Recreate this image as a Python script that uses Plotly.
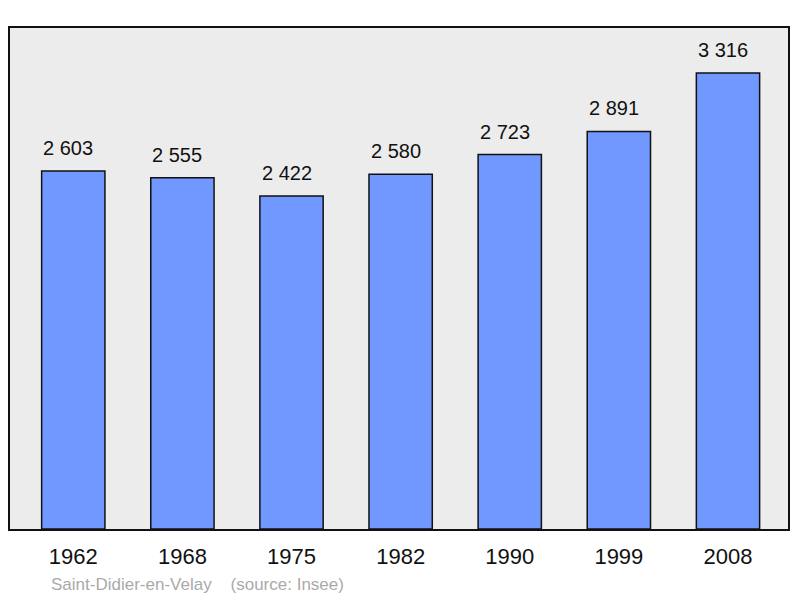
import plotly.graph_objects as go

years = ["1962", "1968", "1975", "1982", "1990", "1999", "2008"]
population = [2603, 2555, 2422, 2580, 2723, 2891, 3316]
labels = ["2 603", "2 555", "2 422", "2 580", "2 723", "2 891", "3 316"]

FONT = "Liberation Sans, Arial, sans-serif"

fig = go.Figure()
fig.add_trace(go.Bar(
    x=list(range(len(years))), y=population,
    width=0.58,
    marker=dict(color="#7098ff", line=dict(color="#111111", width=1.5)),
    hoverinfo="skip",
))

for i, (v, t) in enumerate(zip(population, labels)):
    fig.add_annotation(x=i, y=v, text=t, showarrow=False, yanchor="bottom",
                       yshift=10, xshift=-5,
                       font=dict(size=20, color="#111111", family=FONT))

fig.add_annotation(xref="paper", yref="paper", x=0.05, y=-0.11, xanchor="left",
                   yanchor="middle", showarrow=False,
                   text="Saint-Didier-en-Velay&nbsp;&nbsp;&nbsp;&nbsp;(source: Insee)",
                   font=dict(size=17, color="#aaaaaa", family=FONT))

fig.update_layout(
    width=800, height=598,
    margin=dict(l=10, r=10, t=28, b=69),
    paper_bgcolor="white", plot_bgcolor="#ececec",
    showlegend=False,
    font=dict(family=FONT, color="#111111"),
    xaxis=dict(range=[-0.58, 6.55], tickvals=list(range(len(years))), ticktext=years,
               showgrid=False, zeroline=False, showline=True, mirror=True,
               linecolor="#111111", linewidth=2, ticks="", tickfont=dict(size=22),
               ticklabelstandoff=7),
    yaxis=dict(range=[0, 3643], showgrid=False, zeroline=False, showline=True,
               mirror=True, linecolor="#111111", linewidth=2, showticklabels=False,
               ticks=""),
)

fig.write_html("out.html", config={"displayModeBar": False},
               post_script="document.body.style.margin='0';document.body.style.overflow='hidden';")
